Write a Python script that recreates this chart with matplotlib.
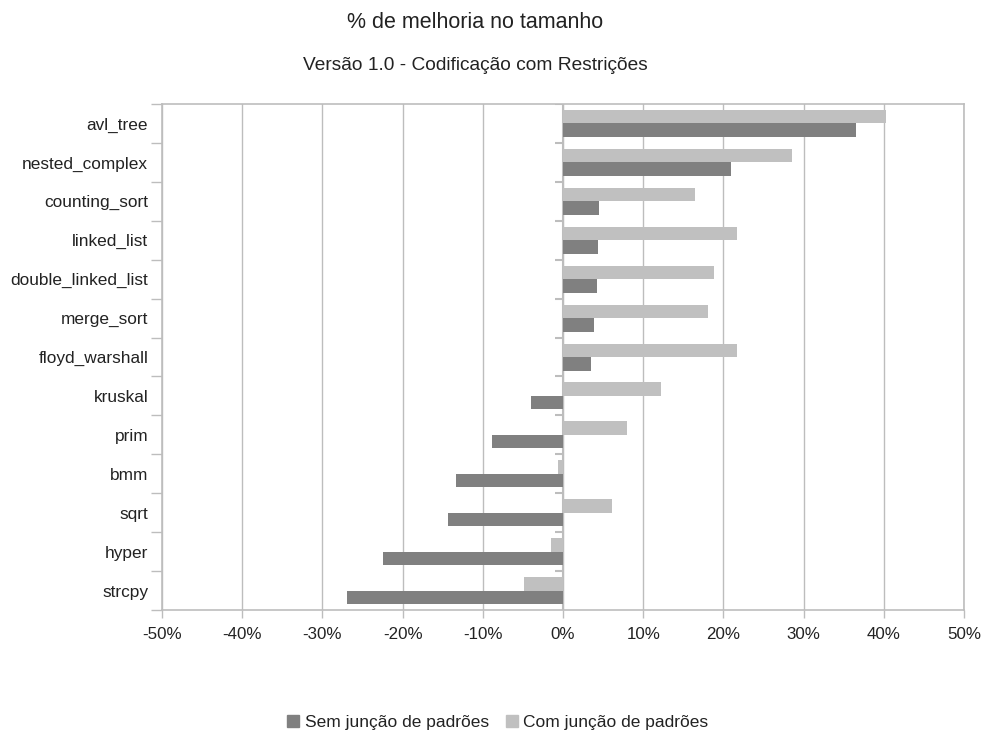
import numpy as np
import matplotlib
matplotlib.use("Agg")
import matplotlib.pyplot as plt
from matplotlib.patches import Patch
from matplotlib.ticker import FixedLocator, FuncFormatter

plt.rcParams["font.family"] = ["Liberation Sans", "DejaVu Sans"]

categories = [
    "avl_tree", "nested_complex", "counting_sort", "linked_list",
    "double_linked_list", "merge_sort", "floyd_warshall", "kruskal",
    "prim", "bmm", "sqrt", "hyper", "strcpy",
]
sem_juncao = [36.5, 21.0, 4.5, 4.4, 4.2, 3.9, 3.5, -4.0, -8.8, -13.4, -14.3, -22.5, -26.9]
com_juncao = [40.3, 28.5, 16.5, 21.7, 18.8, 18.1, 21.7, 12.2, 8.0, -0.6, 6.1, -1.45, -4.9]
x_ticks = [-50, -40, -30, -20, -10, 0, 10, 20, 30, 40, 50]

title = "% de melhoria no tamanho"
subtitle = "Versão 1.0 - Codificação com Restrições"
labels = ["Sem junção de padrões", "Com junção de padrões"]

DARK = "#808080"
LIGHT = "#c0c0c0"
GRID = "#bdbdbd"
TEXT = "#222222"


def main():
    fig = plt.figure(figsize=(9.82, 7.31), dpi=100)
    ax = fig.add_axes([0.165, 0.1655, 0.8167, 0.6922])

    n = len(categories)
    y = np.arange(n)
    h = 0.347

    ax.barh(y + h / 2, sem_juncao, height=h, color=DARK, zorder=3)
    ax.barh(y - h / 2, com_juncao, height=h, color=LIGHT, zorder=3)

    ax.set_xlim(x_ticks[0], x_ticks[-1])
    ax.set_ylim(n - 0.5, -0.5)

    ax.xaxis.set_major_locator(FixedLocator(x_ticks))
    ax.xaxis.set_major_formatter(FuncFormatter(lambda v, p: f"{v:.0f}%"))
    ax.grid(axis="x", color=GRID, linewidth=1.0, zorder=0)

    # category boundaries carry the ticks, centers carry the labels
    bounds = np.arange(n + 1) - 0.5
    ax.set_yticks(bounds)
    ax.set_yticklabels([])
    ax.set_yticks(y, minor=True)
    ax.set_yticklabels(categories, minor=True)
    ax.tick_params(axis="y", which="major", length=8, width=1, color=GRID)
    ax.tick_params(axis="y", which="minor", length=0, pad=10,
                   labelsize=12.4, labelcolor=TEXT)
    ax.tick_params(axis="x", length=6, width=1, color=GRID,
                   labelsize=12.2, labelcolor=TEXT, pad=6)

    # axis line at zero with small ticks
    ax.axvline(0, color=GRID, linewidth=1.5, zorder=2)
    ax.hlines(bounds[:-1], -1, 0, color=GRID, linewidth=1.5, zorder=2)

    for s in ax.spines.values():
        s.set_color(GRID)
        s.set_linewidth(1.2)

    fig.text(0.484, 0.969, title, ha="center", va="center",
             fontsize=15.5, color=TEXT)
    fig.text(0.484, 0.911, subtitle, ha="center", va="center",
             fontsize=13.8, color=TEXT)

    handles = [Patch(color=DARK), Patch(color=LIGHT)]
    fig.legend(handles, labels, loc="center", bbox_to_anchor=(0.507, 0.012),
               ncol=2, frameon=False, fontsize=12.5, handlelength=0.7,
               handleheight=0.7, handletextpad=0.3, columnspacing=1.0,
               labelcolor=TEXT)

    fig.savefig("out.png", dpi=100)
    plt.close(fig)


if __name__ == "__main__":
    main()
